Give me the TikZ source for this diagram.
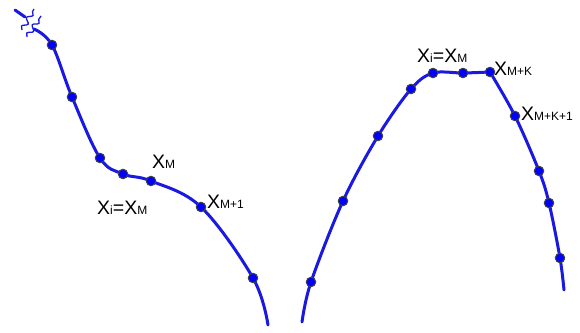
\documentclass[tikz,border=0pt]{standalone}
\usepackage{fontspec}
\setmainfont{Liberation Sans}
\usetikzlibrary{decorations.pathmorphing}
\definecolor{curveblue}{RGB}{25,25,225}
\newcommand{\xsub}[1]{{\fontsize{12}{12}\selectfont #1}}

\begin{document}
\begin{tikzpicture}[x=1pt, y=-1pt,
    curve/.style={draw=curveblue, line width=3pt, line cap=round},
    wave/.style={draw=curveblue, line width=1.3pt, decorate, decoration={snake, amplitude=2.4pt, segment length=10pt}},
    dot/.style={circle, draw=black!75, fill=blue, line width=1pt, inner sep=0pt, minimum size=9.5pt},
    lbl/.style={anchor=base west, inner sep=0pt, font=\fontsize{19.5}{20}\selectfont}]
    \useasboundingbox (0,0) rectangle (580,332);

    % left curve
    \coordinate (l0) at (34,29);
    \coordinate (l1) at (52,45);
    \coordinate (l2) at (72,97);
    \coordinate (l3) at (100,158);
    \coordinate (l4) at (123,174);
    \coordinate (l5) at (151,181);
    \coordinate (l6) at (201,207);
    \coordinate (l7) at (253,278);
    \coordinate (l8) at (268,325);
    \draw[curve] plot[smooth, tension=0.6] coordinates {(l0) (l1) (l2) (l3) (l4) (l5) (l6) (l7) (l8)};

    % break at the top
    \coordinate (s0) at (15,10);
    \coordinate (s1) at (25,17);
    \draw[curve] (s0) -- (s1);
    \draw[wave] (22,30) -- (34,9);
    \draw[wave] (27,37) -- (41,16);

    % right curve
    \coordinate (r0) at (302,322);
    \coordinate (r1) at (311,282);
    \coordinate (r2) at (343,201);
    \coordinate (r3) at (378,136);
    \coordinate (r4) at (411,89);
    \coordinate (r5) at (433,73);
    \coordinate (r6) at (463,73);
    \coordinate (r7) at (490,72);
    \coordinate (r8) at (515,116);
    \coordinate (r9) at (539,171);
    \coordinate (r10) at (549,203);
    \coordinate (r11) at (560,258);
    \coordinate (r12) at (564,290);
    \draw[curve] plot[smooth, tension=0.55] coordinates {(r0) (r1) (r2) (r3) (r4) (r5) (r6) (r7)};
    \draw[curve] plot[smooth, tension=0.55] coordinates {(r7) (r8) (r9) (r10) (r11) (r12)};

    % dots
    \foreach \p in {l1,l2,l3,l4,l5,l6,l7,r1,r2,r3,r4,r5,r6,r7,r8,r9,r10,r11}
        \node[dot] (d\p) at (\p) {};

    % labels
    \node[lbl] (xm) at (152,168) {X\xsub{M}};
    \node[lbl] (xieq) at (97,214) {X\xsub{i}=X\xsub{M}};
    \node[lbl] (xm1) at (207,208) {X\xsub{M+1}};
    \node[lbl] (rxieq) at (417,62) {X\xsub{i}=X\xsub{M}};
    \node[lbl] (xmk) at (494,75) {X\xsub{M+K}};
    \node[lbl] (xmk1) at (521,120) {X\xsub{M+K+1}};
\end{tikzpicture}
\end{document}
